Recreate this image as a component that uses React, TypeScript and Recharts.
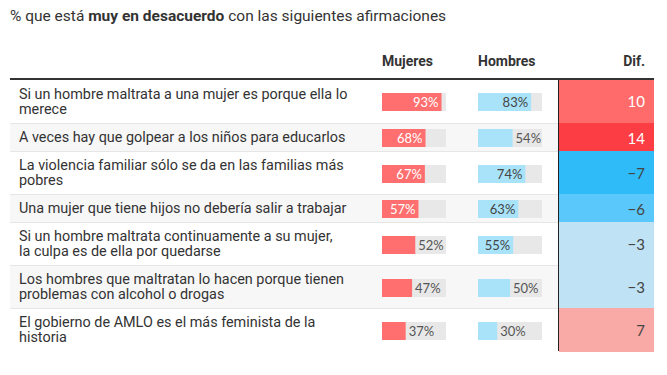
import React from "react";
import { Bar, BarChart, LabelList, XAxis, YAxis } from "recharts";

const statements = [
  "Si un hombre maltrata a una mujer es porque ella lo\nmerece",
  "A veces hay que golpear a los niños para educarlos",
  "La violencia familiar sólo se da en las familias más\npobres",
  "Una mujer que tiene hijos no debería salir a trabajar",
  "Si un hombre maltrata continuamente a su mujer,\nla culpa es de ella por quedarse",
  "Los hombres que maltratan lo hacen porque tienen\nproblemas con alcohol o drogas",
  "El gobierno de AMLO es el más feminista de la\nhistoria",
];
const mujeres = [93, 68, 67, 57, 52, 47, 37];
const hombres = [83, 54, 74, 63, 55, 50, 30];
const dif = [10, 14, -7, -6, -3, -3, 7];

const FONT = "Roboto, 'Noto Sans', sans-serif";
const NUM_FONT = "Lato, 'Noto Sans', sans-serif";
const TEXT = "#333";

// colour of the Dif. cell for a given difference
function difColor(v: number) {
  if (v >= 12) return "#fc3d43";
  if (v >= 9) return "#ff6b6b";
  if (v > 0) return "#f9a9a6";
  if (v <= -7) return "#2ebbf8";
  if (v <= -5) return "#5bc8fb";
  return "#bfe2f5";
}

function MiniBar({ value, color, inside }: { value: number; color: string; inside: string }) {
  const data = [{ name: "v", value }];
  const renderLabel = (p: any) => {
    const x = Number(p.x);
    const w = Number(p.width);
    const y = Number(p.y) + Number(p.height) / 2;
    const isIn = value >= 55;
    return (
      <text
        x={isIn ? x + w - 3 : x + w + 3}
        y={y}
        dy="0.35em"
        textAnchor={isIn ? "end" : "start"}
        fill={isIn ? inside : "#555"}
        fontSize={13}
        fontFamily={NUM_FONT}
      >
        {p.value}%
      </text>
    );
  };
  return (
    <BarChart
      width={64}
      height={20}
      data={data}
      layout="vertical"
      margin={{ top: 0, right: 0, bottom: 0, left: 0 }}
    >
      <XAxis type="number" domain={[0, 100]} hide />
      <YAxis type="category" dataKey="name" hide />
      <Bar
        dataKey="value"
        fill={color}
        background={{ fill: "#e8e8e8" }}
        barSize={20}
        isAnimationActive={false}
      >
        <LabelList dataKey="value" content={renderLabel} />
      </Bar>
    </BarChart>
  );
}

export default function App() {
  let top = 80;
  const rows = statements.map((s, i) => {
    const h = s.includes("\n") ? 43 : 28;
    const row = (
      <div
        key={i}
        style={{
          position: "absolute",
          left: 10,
          top,
          width: 644,
          height: h,
          background: i % 2 === 1 ? "#f7f7f7" : "#fff",
          borderTop: i > 0 ? "1px solid #e6e6e6" : "none",
          boxSizing: "border-box",
        }}
      >
        <div
          style={{
            position: "absolute",
            left: 9,
            top: 0,
            height: "100%",
            display: "flex",
            alignItems: "center",
            whiteSpace: "pre",
            fontSize: 14.4,
            lineHeight: "15px",
            color: TEXT,
          }}
        >
          {s}
        </div>
        <div style={{ position: "absolute", left: 372, top: (h - 20) / 2 }}>
          <MiniBar value={mujeres[i]} color="#ff6f6f" inside="#fff" />
        </div>
        <div style={{ position: "absolute", left: 468, top: (h - 20) / 2 }}>
          <MiniBar value={hombres[i]} color="#a8e3fa" inside="#444" />
        </div>
        <div
          style={{
            position: "absolute",
            left: 549,
            top: -1,
            width: 95,
            height: h + 1,
            background: difColor(dif[i]),
            display: "flex",
            alignItems: "center",
            justifyContent: "flex-end",
            paddingRight: 9,
            boxSizing: "border-box",
            fontSize: 15,
            fontFamily: NUM_FONT,
            color: dif[i] >= 9 ? "#fff" : "#444",
          }}
        >
          {dif[i] < 0 ? "\u2212" + Math.abs(dif[i]) : dif[i]}
        </div>
      </div>
    );
    top += h;
    return row;
  });

  return (
    <div
      style={{
        position: "fixed",
        left: 0,
        top: 0,
        width: 667,
        height: 375,
        background: "#fff",
        fontFamily: FONT,
        color: TEXT,
      }}
    >
      <div style={{ position: "absolute", left: 10, top: 7, fontSize: 15.5, color: "#333" }}>
        % que está <b>muy en desacuerdo</b> con las siguientes afirmaciones
      </div>
      <div style={{ position: "absolute", left: 382, top: 53, fontSize: 14, fontWeight: 700 }}>
        Mujeres
      </div>
      <div style={{ position: "absolute", left: 478, top: 53, fontSize: 14, fontWeight: 700 }}>
        Hombres
      </div>
      <div
        style={{ position: "absolute", left: 559, width: 86, textAlign: "right", top: 53, fontSize: 14, fontWeight: 700 }}
      >
        Dif.
      </div>
      {rows}
      <div style={{ position: "absolute", left: 10, top: 78, width: 644, height: 2, background: "#333" }} />
      <div style={{ position: "absolute", left: 558, top: 80, width: 1, height: top - 80, background: "#222" }} />
    </div>
  );
}
